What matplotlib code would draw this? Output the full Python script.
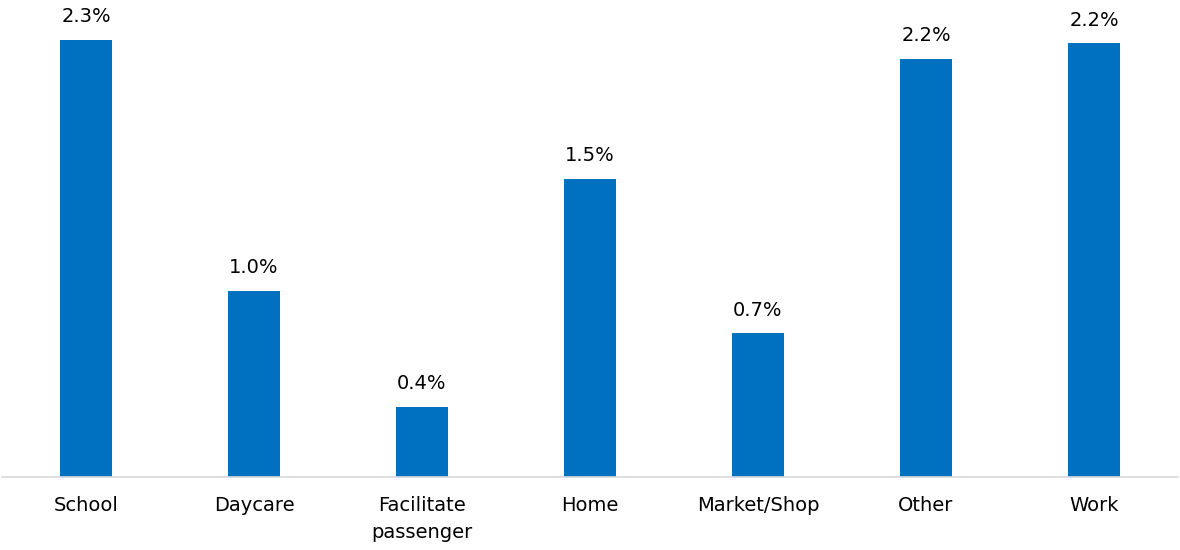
import matplotlib.pyplot as plt
import numpy as np

categories = ["School", "Daycare", "Facilitate\npassenger", "Home", "Market/Shop", "Other", "Work"]
shares = [2.26, 0.96, 0.36, 1.54, 0.74, 2.16, 2.24]  # percent

plt.rcParams['font.family'] = ['DejaVu Sans']

fig = plt.figure(figsize=(11.8, 5.5), dpi=100)
ax = fig.add_axes([2 / 1180, 1 - 476.5 / 550, 1176 / 1180, 476.5 / 550])

x = np.arange(len(categories))
bars = ax.bar(x, shares, width=0.31, color="#0070C0", zorder=2)

for rect, v in zip(bars, shares):
    ax.annotate("%.1f%%" % v, (rect.get_x() + rect.get_width() / 2, rect.get_height()),
                xytext=(0, 10), textcoords="offset points", ha="center", va="bottom",
                fontsize=14, color="#000000", annotation_clip=False)

ax.set_xlim(-0.5, len(categories) - 0.5)
ax.set_ylim(0, 2.465)
ax.set_xticks(x)
ax.set_xticklabels(categories, fontsize=14, linespacing=1.55, va="top")
ax.tick_params(axis="x", length=0, pad=14)
ax.set_yticks([])
for s in ["top", "left", "right"]:
    ax.spines[s].set_visible(False)
ax.spines["bottom"].set_color("#d9d9d9")
ax.spines["bottom"].set_linewidth(1.2)

fig.savefig("out.png", dpi=100)
